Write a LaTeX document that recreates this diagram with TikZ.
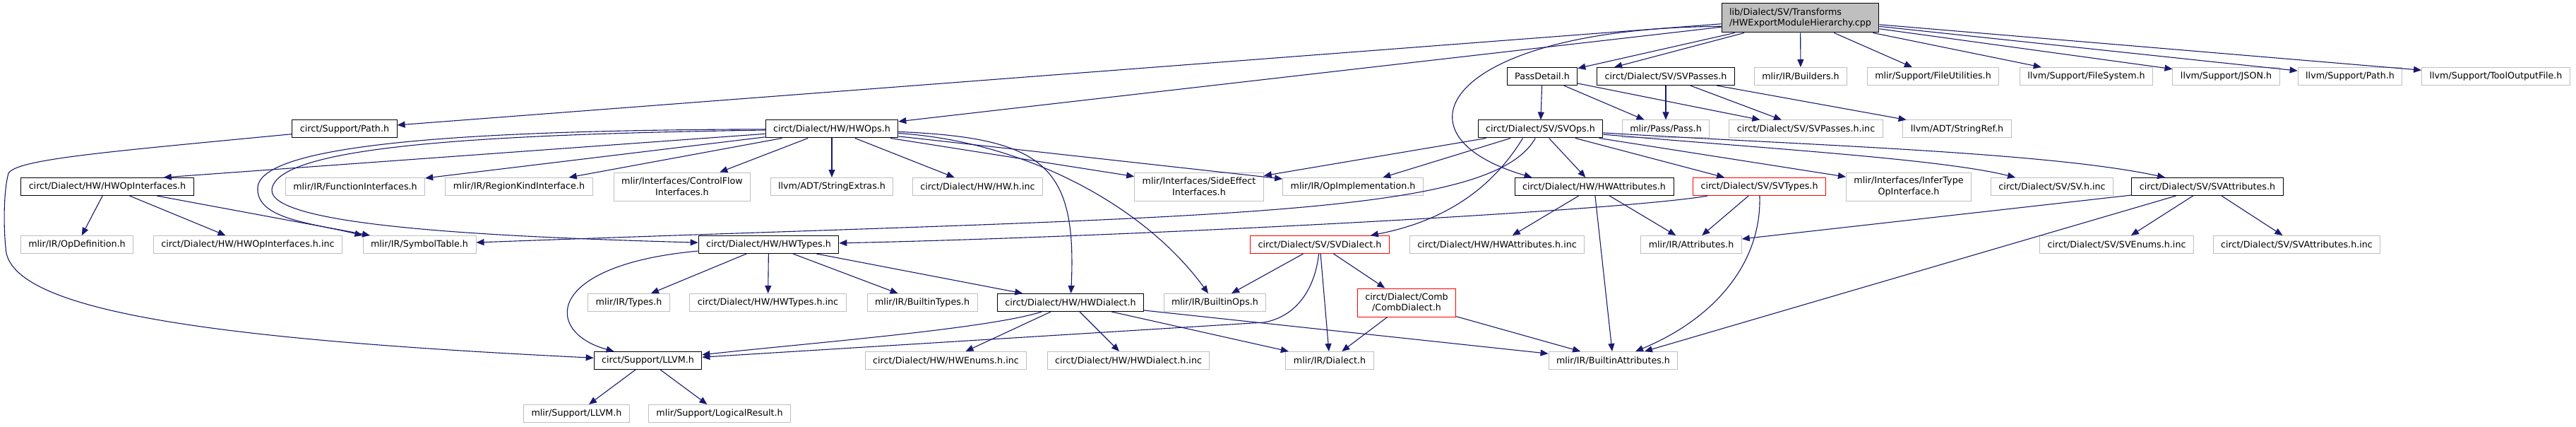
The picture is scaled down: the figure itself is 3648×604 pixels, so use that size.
\documentclass[tikz,border=0pt]{standalone}
\usepackage{fontspec}
\setmainfont{DejaVu Sans}
\usepackage{tikz}
\usetikzlibrary{arrows.meta}
\definecolor{edgeblue}{HTML}{191970}
\definecolor{grey75}{HTML}{BFBFBF}

\begin{document}
\begin{tikzpicture}[x=1pt, y=-1pt, ->, >={Triangle[length=11pt,width=9pt]},
  every edge/.style={draw=edgeblue, line width=1.1pt},
  dep/.style={draw=edgeblue, line width=1.1pt},
  docfile/.style={draw=black, line width=1pt, inner xsep=11pt, inner ysep=2pt, minimum height=25pt,
    font=\fontsize{12.7}{15.5}\selectfont, align=center},
  extfile/.style={docfile, draw=grey75},
  truncfile/.style={docfile, draw=red},
  rootfile/.style={docfile, fill=grey75, align=left, minimum height=41pt}]
\path[use as bounding box] (0,0) rectangle (3648,604);
% row 0
\node[rootfile] (main) at (2549.5,25.5) {lib/Dialect/SV/Transforms\\/HWExportModuleHierarchy.cpp};
% row 1
\node[docfile] (passdetail) at (2184,108) {PassDetail.h};
\node[docfile] (svpasses) at (2359,108) {circt/Dialect/SV/SVPasses.h};
\node[extfile] (builders) at (2550,108) {mlir/IR/Builders.h};
\node[extfile] (fileutil) at (2737.5,108) {mlir/Support/FileUtilities.h};
\node[extfile] (filesys) at (2954.5,108) {llvm/Support/FileSystem.h};
\node[extfile] (json) at (3152.5,108) {llvm/Support/JSON.h};
\node[extfile] (llvmpath) at (3328,108) {llvm/Support/Path.h};
\node[extfile] (tooloutput) at (3534.5,108) {llvm/Support/ToolOutputFile.h};
% row 2
\node[docfile] (cpath) at (488,182.5) {circt/Support/Path.h};
\node[docfile] (hwops) at (1178,182.5) {circt/Dialect/HW/HWOps.h};
\node[docfile] (svops) at (2181.5,182.5) {circt/Dialect/SV/SVOps.h};
\node[extfile] (passh) at (2359,182.5) {mlir/Pass/Pass.h};
\node[extfile] (svpassesinc) at (2557.5,182.5) {circt/Dialect/SV/SVPasses.h.inc};
\node[extfile] (stringref) at (2771.5,182.5) {llvm/ADT/StringRef.h};
% row 3
\node[docfile] (hwopif) at (152,264) {circt/Dialect/HW/HWOpInterfaces.h};
\node[extfile] (funcif) at (503,264) {mlir/IR/FunctionInterfaces.h};
\node[extfile] (regionkind) at (735,264) {mlir/IR/RegionKindInterface.h};
\node[extfile, minimum height=40pt] (ctrlflow) at (966,264) {mlir/Interfaces/ControlFlow\\Interfaces.h};
\node[extfile] (strextras) at (1178,264) {llvm/ADT/StringExtras.h};
\node[extfile] (hwinc) at (1384.5,264) {circt/Dialect/HW/HW.h.inc};
\node[extfile, minimum height=40pt] (sideeff) at (1698,264) {mlir/Interfaces/SideEffect\\Interfaces.h};
\node[extfile] (opimpl) at (1916,264) {mlir/IR/OpImplementation.h};
\node[docfile] (hwattr) at (2257.5,264) {circt/Dialect/HW/HWAttributes.h};
\node[truncfile] (svtypes) at (2491.5,264) {circt/Dialect/SV/SVTypes.h};
\node[extfile, minimum height=40pt] (infertype) at (2703,264) {mlir/Interfaces/InferType\\OpInterface.h};
\node[extfile] (svinc) at (2906,264) {circt/Dialect/SV/SV.h.inc};
\node[docfile] (svattr) at (3126,264) {circt/Dialect/SV/SVAttributes.h};
% row 4
\node[extfile] (opdef) at (109,346) {mlir/IR/OpDefinition.h};
\node[extfile] (hwopifinc) at (351,346) {circt/Dialect/HW/HWOpInterfaces.h.inc};
\node[extfile] (symtab) at (594,346) {mlir/IR/SymbolTable.h};
\node[docfile] (hwtypes) at (1088.5,346) {circt/Dialect/HW/HWTypes.h};
\node[truncfile] (svdialect) at (1869,346) {circt/Dialect/SV/SVDialect.h};
\node[extfile] (hwattrinc) at (2120,346) {circt/Dialect/HW/HWAttributes.h.inc};
\node[extfile] (attrs) at (2395,346) {mlir/IR/Attributes.h};
\node[extfile] (svenumsinc) at (2997.5,346) {circt/Dialect/SV/SVEnums.h.inc};
\node[extfile] (svattrinc) at (3252.5,346) {circt/Dialect/SV/SVAttributes.h.inc};
% row 5
\node[extfile] (types) at (890.5,428) {mlir/IR/Types.h};
\node[extfile] (hwtypesinc) at (1087.5,428) {circt/Dialect/HW/HWTypes.h.inc};
\node[extfile] (builtintypes) at (1306,428) {mlir/IR/BuiltinTypes.h};
\node[docfile] (hwdialect) at (1516,428) {circt/Dialect/HW/HWDialect.h};
\node[extfile] (builtinops) at (1720.5,428) {mlir/IR/BuiltinOps.h};
\node[truncfile, minimum height=40pt] (combdialect) at (1992,428) {circt/Dialect/Comb\\/CombDialect.h};
% row 6
\node[docfile] (cllvm) at (917.5,510) {circt/Support/LLVM.h};
\node[extfile] (hwenumsinc) at (1339.5,510) {circt/Dialect/HW/HWEnums.h.inc};
\node[extfile] (hwdialectinc) at (1598,510) {circt/Dialect/HW/HWDialect.h.inc};
\node[extfile] (dialect) at (1883,510) {mlir/IR/Dialect.h};
\node[extfile] (builtinattr) at (2284.5,510) {mlir/IR/BuiltinAttributes.h};
% row 7
\node[extfile] (mllvm) at (816.5,585) {mlir/Support/LLVM.h};
\node[extfile] (logicalres) at (1019,585) {mlir/Support/LogicalResult.h};

% includes of the .cpp file
\path (main) edge (cpath);
\path (main) edge (hwops);
\path (main) edge (passdetail);
\path (main) edge ([xshift=25pt]svpasses.north west);
\path (main) edge (builders);
\path (main) edge (fileutil);
\path (main) edge (filesys);
\path (main) edge (json);
\path (main) edge (llvmpath);
\path (main) edge (tooloutput);
\draw[dep] (main.186) .. controls (2050,40) and (1960,190) .. ([xshift=25pt]hwattr.north west);

\path (passdetail) edge (svops);
\path (passdetail) edge (passh);
\path (passdetail) edge (svpassesinc);
\path (svpasses) edge (passh);
\path (svpasses) edge (svpassesinc);
\path (svpasses) edge (stringref);
\draw[dep] (cpath) .. controls (150,215) and (25,225) .. (12,245) .. controls (5,270) and (5,320) .. (8,350) .. controls (10,440) and (300,480) .. (cllvm);

% HWOps.h
\path (hwops) edge ([xshift=-43pt]hwopif.north east);
\path (hwops) edge (funcif);
\path (hwops) edge (regionkind);
\path (hwops) edge (ctrlflow);
\path (hwops) edge (strextras);
\path (hwops) edge (hwinc);
\path (hwops) edge (sideeff);
\path (hwops) edge (opimpl);
\draw[dep] (hwops) .. controls (700,184) and (370,200) .. (365,265) .. controls (362,310) and (440,315) .. (symtab.north west);
\draw[dep] (hwops) .. controls (700,190) and (392,205) .. (385,268) .. controls (380,320) and (700,335) .. (hwtypes);
\draw[dep] (hwops) .. controls (1480,195) and (1525,235) .. (hwdialect);
\draw[dep] (hwops) .. controls (1450,200) and (1620,290) .. (builtinops);

% SVOps.h
\path (svops) edge (sideeff);
\path (svops) edge (opimpl);
\path (svops) edge (hwattr);
\path (svops) edge (svtypes);
\path (svops) edge (infertype);
\draw[dep] (svops) .. controls (2500,210) and (2750,225) .. (svinc);
\draw[dep] (svops) .. controls (2550,205) and (2900,215) .. (svattr);
\draw[dep] (svops) .. controls (2110,310) and (1700,305) .. (symtab);
\draw[dep] ([xshift=-25pt]svops.south) .. controls (2120,255) and (2060,310) .. ([xshift=-27pt]svdialect.north east);

\path (hwopif) edge (opdef);
\path (hwopif) edge (hwopifinc);
\path (hwopif) edge (symtab);

\path (hwattr) edge (hwattrinc);
\path (hwattr) edge (builtinattr);
\path (hwattr) edge (attrs);
\path (svtypes) edge (attrs);
\draw[dep] (svtypes) .. controls (2300,298) and (1600,335) .. (hwtypes);
\draw[dep] (svtypes) .. controls (2495,370) and (2430,450) .. (builtinattr);
\path (svattr) edge (attrs);
\path (svattr) edge (builtinattr);
\path (svattr) edge (svenumsinc);
\path (svattr) edge (svattrinc);

% HWTypes.h
\path (hwtypes) edge (types);
\path (hwtypes) edge (hwtypesinc);
\path (hwtypes) edge (builtintypes);
\path (hwtypes) edge (hwdialect);
\draw[dep] (hwtypes) .. controls (770,375) and (770,470) .. (cllvm);

\path (svdialect) edge (builtinops);
\path (svdialect) edge (dialect);
\path (svdialect) edge (combdialect);
\draw[dep] (svdialect) .. controls (1862,410) and (1835,448) .. (1790,456) -- (cllvm);
\path (combdialect) edge (dialect);
\path (combdialect) edge (builtinattr);

% HWDialect.h
\path (hwdialect) edge (hwenumsinc);
\path (hwdialect) edge (hwdialectinc);
\path (hwdialect) edge (dialect);
\path (hwdialect) edge (builtinattr);
\draw[dep] (hwdialect) .. controls (1400,465) and (1150,485) .. (cllvm);

\path (cllvm) edge (mllvm);
\path (cllvm) edge (logicalres);
\end{tikzpicture}
\end{document}
